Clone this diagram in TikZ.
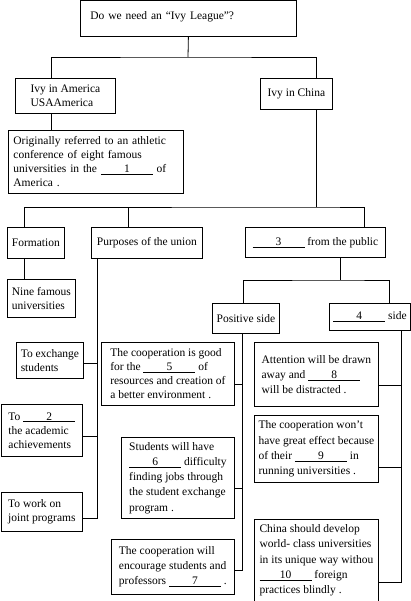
\documentclass[tikz,border=0pt]{standalone}
\usepackage{fontspec}
\setmainfont{Liberation Serif}
\usetikzlibrary{positioning,calc}
\newcommand{\fillin}[1]{\underline{\makebox[52pt]{#1}}}

\begin{document}
\begin{tikzpicture}[x=1pt, y=-1pt,
      box/.style={draw, line width=0.8pt, anchor=north west, align=left, inner xsep=3.5pt, inner ysep=0pt,
                  font=\fontsize{11.5}{14}\selectfont},
      tall/.style={font=\fontsize{11.5}{15.3}\selectfont},
      link/.style={line width=0.8pt}]
    \useasboundingbox (0,0) rectangle (411,601);
    \node[box, inner xsep=10pt, text width=196pt, minimum height=36pt, text depth=6pt] (top) at (80,0) {Do we need an “Ivy League”?};
    \node[box, minimum width=100pt, minimum height=35pt] (america) at (15,78) {Ivy in America\\USAAmerica};
    \node[box, minimum width=72pt, minimum height=31pt] (china) at (260,78) {Ivy in China};
    \node[box, inner xsep=5pt, text width=165pt, minimum height=63pt] (orig) at (8,130)
      {Originally referred to an athletic\\conference of eight famous\\universities in the \fillin{1} of\\America .};
    \node[box, minimum width=57pt, minimum height=31pt] (formation) at (7,227) {Formation};
    \node[box, minimum width=111pt, minimum height=31pt] (purposes) at (91,227) {Purposes of the union};
    \node[box, minimum width=140pt, minimum height=30pt] (public) at (245,227) {\fillin{3} from the public};
    \node[box, minimum width=68pt, minimum height=38pt] (nine) at (7,279) {Nine famous\\universities};
    \node[box, minimum width=67pt, minimum height=30pt] (positive) at (212,303) {Positive side};
    \node[box, minimum width=81pt, minimum height=27pt] (negative) at (329,303) {\fillin{4} side};
    % purposes of the union
    \node[box, minimum width=67pt, minimum height=36pt] (exchange) at (16,342) {To exchange\\students};
    \node[box, minimum width=81pt, minimum height=52pt] (achieve) at (1,404) {To \fillin{2}\\the academic\\achievements};
    \node[box, minimum width=81pt, minimum height=39pt] (joint) at (1,492) {To work on\\joint programs};
    % positive side
    \node[box, minimum width=133pt, minimum height=63pt] (coopgood) at (101,342)
      {The cooperation is good\\for the \fillin{5} of\\resources and creation of\\a better environment .};
    \node[box, tall, minimum width=113pt, minimum height=81pt] (students) at (121,437)
      {Students will have\\\fillin{6} difficulty\\finding jobs through\\the student exchange\\program .};
    \node[box, tall, minimum width=123pt, minimum height=55pt] (encourage) at (111,539)
      {The cooperation will\\encourage students and\\professors \fillin{7} .};
    % negative side
    \node[box, tall, minimum width=124pt, minimum height=64pt] (attention) at (254,342)
      {Attention will be drawn\\away and \fillin{8}\\will be distracted .};
    \node[box, tall, minimum width=124pt, minimum height=67pt] (effect) at (254,415)
      {The cooperation won't\\have great effect because\\of their \fillin{9} in\\running universities .};
    \node[box, tall, minimum width=124pt, minimum height=82pt] (develop) at (254,519)
      {China should develop\\world- class universities\\in its unique way withou\\\fillin{10} foreign\\practices blindly .};

    \coordinate (qsplit) at (188,57);
    \coordinate (usA) at ([xshift=36pt]america.north west);
    \coordinate (usB) at ([xshift=36pt]america.south west);
    \coordinate (cnA) at ([xshift=56pt]china.north west);
    \coordinate (cnB) at ([xshift=56pt]china.south west);
    \coordinate (csplit) at (316,207);
    \coordinate (fmA) at ([xshift=17pt]formation.north west);
    \coordinate (fmB) at ([xshift=17pt]formation.south west);
    \coordinate (puA) at ([xshift=37pt]purposes.north west);
    \coordinate (puB) at ([xshift=6pt]purposes.south west);
    \coordinate (pbA) at ([xshift=119pt]public.north west);
    \coordinate (pbB) at ([xshift=95pt]public.south west);
    \coordinate (psplit) at (340,280);
    \coordinate (psA) at ([xshift=31pt]positive.north west);
    \coordinate (psB) at ([xshift=30pt]positive.south west);
    \coordinate (ngA) at ([xshift=60pt]negative.north west);
    \coordinate (ngB) at ([xshift=72pt]negative.south west);

    \draw[link] (top.south) -- (qsplit);
    \draw[link] (usA) |- (qsplit) -| (cnA);
    \draw[link] (usB) -- (usB |- orig.north);
    \draw[link] (cnB) -- (csplit);
    \draw[link] (fmA) |- (csplit) -| (pbA);
    \draw[link] (puA) -- (puA |- csplit);
    \draw[link] (fmB) -- (fmB |- nine.north);
    \draw[link] (pbB) -- (psplit);
    \draw[link] (psA) |- (psplit) -| (ngA);
    \foreach \b/\d in {exchange/3, achieve/6, joint/6.5}
      \draw[link] ([yshift=-\d pt]\b.east) -| (puB);
    \foreach \b/\d in {coopgood/10.5, students/10.5, encourage/3.5}
      \draw[link] ([yshift=-\d pt]\b.east) -| (psB);
    \foreach \b/\d in {attention/11, effect/18.5, develop/22}
      \draw[link] ([yshift=-\d pt]\b.east) -| (ngB);
  \end{tikzpicture}
\end{document}
